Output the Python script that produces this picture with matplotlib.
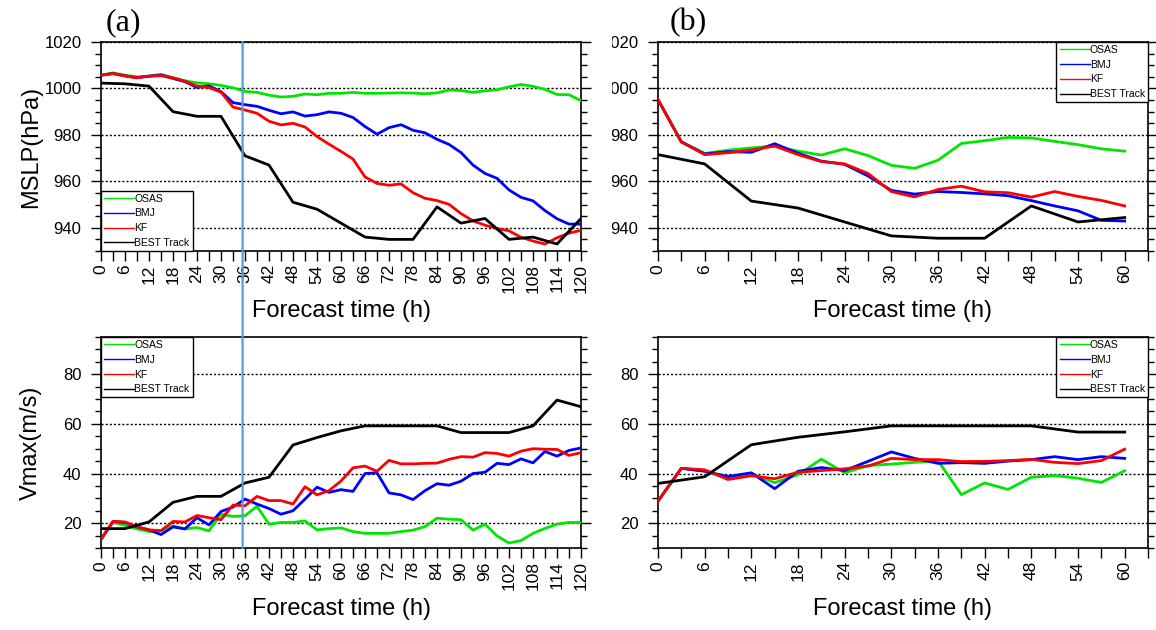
import numpy as np
import matplotlib
matplotlib.use('Agg')
import matplotlib.pyplot as plt
from matplotlib.patches import ConnectionPatch
from matplotlib.transforms import Bbox, TransformedBbox
from matplotlib.ticker import MultipleLocator

plt.rcParams['font.family'] = ['Liberation Sans', 'DejaVu Sans']

# forecast hours
hours_a = np.arange(0, 121, 3)
best_hours_a = np.arange(0, 121, 6)
hours_b = np.arange(0, 61, 3)
best_hours_b = np.arange(0, 61, 6)

# (a) MSLP (hPa)
mslp_osas_a = [1005.7, 1006.7, 1005.7, 1005.0, 1005.3, 1006.1, 1004.6, 1003.3, 1002.4, 1002.0,
               1001.3, 1000.3, 998.7, 998.3, 997.1, 996.3, 996.6, 997.6, 997.3, 997.9,
               997.9, 998.3, 997.9, 997.9, 998.0, 998.1, 998.0, 997.7, 998.1, 999.3,
               999.1, 998.3, 999.0, 999.4, 1000.7, 1001.7, 1000.9, 999.6, 997.4, 997.3, 994.7]
mslp_bmj_a = [1005.7, 1006.4, 1005.4, 1004.6, 1005.3, 1005.7, 1004.3, 1002.9, 1000.4, 1001.1,
              998.6, 993.9, 993.0, 992.3, 990.6, 989.1, 989.9, 988.1, 988.7, 989.9,
              989.3, 987.5, 983.6, 980.3, 983.1, 984.4, 982.0, 980.9, 978.1, 975.9,
              972.4, 967.0, 963.4, 961.3, 956.3, 953.1, 951.6, 947.4, 943.9, 941.6, 941.6]
mslp_kf_a = [1005.7, 1006.4, 1005.4, 1004.6, 1005.3, 1005.5, 1004.6, 1003.1, 1001.0, 1000.4,
             998.4, 992.0, 990.7, 989.3, 985.9, 984.3, 985.0, 983.4, 979.3, 976.0,
             972.9, 969.6, 961.9, 959.1, 958.3, 958.9, 955.1, 952.7, 951.7, 950.1,
             946.1, 943.0, 941.1, 939.7, 938.7, 935.9, 934.3, 933.0, 935.7, 937.7, 938.9]
mslp_best_a = [1002.3, 1002.0, 1001.0, 990.0, 988.0, 988.0, 971.0, 967.0, 951.0, 948.0, 942.0,
               936.0, 935.0, 935.0, 949.0, 942.0, 944.0, 935.0, 936.0, 933.0, 944.0]

# (b) MSLP (hPa)
mslp_osas_b = [995.2, 977.0, 972.0, 973.4, 974.4, 975.2, 973.0, 971.3, 974.0, 971.1, 966.9,
               965.6, 969.1, 976.3, 977.5, 978.9, 978.7, 977.2, 975.8, 974.0, 973.0]
mslp_bmj_b = [995.2, 977.0, 971.8, 972.8, 972.5, 976.2, 972.1, 968.7, 967.3, 962.3, 956.1,
              954.5, 955.6, 955.2, 954.6, 953.8, 951.7, 949.4, 947.3, 943.2, 942.9]
mslp_kf_b = [995.2, 977.0, 971.5, 972.3, 973.5, 975.2, 971.5, 968.5, 967.5, 963.4, 955.6,
             953.3, 956.5, 957.9, 955.5, 955.1, 953.2, 955.6, 953.5, 951.8, 949.4]
mslp_best_b = [971.5, 967.5, 951.5, 948.5, 942.5, 936.5, 935.5, 935.5, 949.4, 942.5, 944.4]

# (a) Vmax (m/s)
vmax_osas_a = [13.5, 20.4, 19.1, 17.7, 16.6, 16.9, 18.9, 17.7, 18.2, 16.9,
               23.6, 22.7, 23.0, 26.8, 19.6, 20.3, 20.3, 20.9, 17.3, 17.8,
               18.1, 16.6, 15.9, 15.9, 15.9, 16.6, 17.2, 18.6, 22.0, 21.6,
               21.4, 17.2, 19.6, 14.9, 12.0, 13.0, 15.9, 17.9, 19.6, 20.3, 20.3]
vmax_bmj_a = [13.5, 20.7, 20.3, 18.5, 17.3, 15.4, 18.5, 17.7, 22.2, 19.3,
              24.7, 26.5, 29.7, 27.7, 25.9, 23.6, 25.0, 29.7, 34.5, 32.4,
              33.5, 32.8, 40.0, 40.3, 32.2, 31.4, 29.5, 33.1, 35.9, 35.3,
              36.9, 40.0, 40.5, 44.1, 43.6, 45.9, 44.3, 48.9, 47.0, 49.3, 50.3]
vmax_kf_a = [13.5, 20.7, 20.5, 18.5, 17.3, 17.0, 20.7, 20.5, 23.1, 22.2,
             21.4, 27.3, 27.0, 30.8, 29.1, 29.1, 27.7, 34.7, 31.4, 33.1,
             37.0, 42.3, 43.0, 40.9, 45.3, 43.9, 43.9, 44.1, 44.2, 45.7,
             46.8, 46.6, 48.4, 48.1, 47.0, 49.0, 50.0, 49.8, 49.7, 47.3, 48.4]
vmax_best_a = [17.8, 17.8, 20.5, 28.4, 30.8, 30.8, 36.2, 38.5, 51.5, 54.5, 57.2,
               59.2, 59.2, 59.2, 59.2, 56.5, 56.5, 56.5, 59.2, 69.6, 66.9]

# (b) Vmax (m/s)
vmax_osas_b = [28.9, 42.1, 41.1, 38.1, 40.0, 36.3, 39.5, 45.8, 40.3, 43.2, 43.8,
               44.5, 45.2, 31.5, 36.2, 33.6, 38.5, 39.2, 38.1, 36.4, 41.1]
vmax_bmj_b = [28.9, 42.1, 40.9, 38.8, 40.3, 33.9, 40.9, 42.4, 41.2, 44.9, 48.7,
              46.1, 44.1, 44.4, 44.1, 45.0, 45.6, 46.8, 45.6, 46.8, 46.1]
vmax_kf_b = [28.9, 42.1, 41.5, 37.6, 39.1, 37.9, 40.5, 41.2, 41.9, 43.0, 46.1,
             45.6, 45.6, 44.8, 44.9, 45.2, 45.7, 44.5, 44.0, 45.2, 49.8]
vmax_best_b = [36.0, 38.7, 51.6, 54.6, 56.8, 59.2, 59.2, 59.2, 59.2, 56.7, 56.7]

labels = ['OSAS', 'BMJ', 'KF', 'BEST Track']
colors = ['#00e600', '#0000ff', '#ff0000', '#000000']
split_hour = 35.4  # vertical marker linking panel (a) to (b)

W, H = 1156, 630
fig = plt.figure(figsize=(W / 100, H / 100), dpi=100)

ax_tl = fig.add_axes([101 / W, 1 - 251 / H, 480 / W, 209 / H])
ax_tr = fig.add_axes([658 / W, 1 - 251 / H, 490 / W, 209 / H])
ax_bl = fig.add_axes([101 / W, 1 - 548 / H, 480 / W, 211 / H])
ax_br = fig.add_axes([658 / W, 1 - 548 / H, 490 / W, 211 / H])


def style_axes(ax, xmax, xlab_max, ylim, yticks):
    ax.set_xlim(0, xmax)
    ax.set_ylim(*ylim)
    xt = np.arange(0, xlab_max + 1, 6)
    ax.set_xticks(xt)
    ax.set_xticklabels([str(v) for v in xt], rotation=90)
    ax.xaxis.set_minor_locator(MultipleLocator(3))
    ax.set_yticks(yticks)
    ax.yaxis.set_minor_locator(MultipleLocator(5))
    ax.tick_params(axis='x', which='both', direction='out', length=7, width=1,
                   pad=2.5, labelsize=12.5)
    ax.tick_params(axis='y', which='major', direction='out', length=7, width=1,
                   pad=7, left=True, right=True, labelsize=12)
    ax.tick_params(axis='y', which='minor', direction='out', length=4.5, width=1,
                   left=True, right=True)
    for y in yticks:
        ax.axhline(y, color='k', ls=(0, (1.5, 1.5)), lw=1, zorder=1)
    for s in ax.spines.values():
        s.set_linewidth(1.2)
    ax.set_xlabel('Forecast time (h)', fontsize=17)
    ax.xaxis.set_label_coords(0.5, -0.235)


def draw_lines(ax, hours, best_hours, series, best, loc):
    for vals, lab, c in zip(series, labels[:3], colors[:3]):
        ax.plot(hours, vals, color=c, lw=2, label=lab, zorder=3)
    ax.plot(best_hours, best, color=colors[3], lw=2, label=labels[3], zorder=3)
    leg = ax.legend(loc=loc, borderaxespad=0, fancybox=False, edgecolor='k',
                    framealpha=1, fontsize=7.5, handlelength=2.9, handletextpad=0,
                    labelspacing=0.45, borderpad=0.3)
    leg.get_frame().set_linewidth(1.0)
    for ln in leg.get_lines():
        ln.set_linewidth(1.0)


draw_lines(ax_tl, hours_a, best_hours_a, [mslp_osas_a, mslp_bmj_a, mslp_kf_a], mslp_best_a, 'lower left')
draw_lines(ax_tr, hours_b, best_hours_b, [mslp_osas_b, mslp_bmj_b, mslp_kf_b], mslp_best_b, 'upper right')
draw_lines(ax_bl, hours_a, best_hours_a, [vmax_osas_a, vmax_bmj_a, vmax_kf_a], vmax_best_a, 'upper left')
draw_lines(ax_br, hours_b, best_hours_b, [vmax_osas_b, vmax_bmj_b, vmax_kf_b], vmax_best_b, 'upper right')

style_axes(ax_tl, 120, 120, (930, 1020), [940, 960, 980, 1000, 1020])
style_axes(ax_tr, 63, 60, (930, 1020), [940, 960, 980, 1000, 1020])
style_axes(ax_bl, 120, 120, (10, 95), [20, 40, 60, 80])
style_axes(ax_br, 63, 60, (10, 95), [20, 40, 60, 80])

ax_tl.set_ylabel('MSLP(hPa)', fontsize=17)
ax_tl.yaxis.set_label_coords(-0.123, 0.5)
ax_bl.set_ylabel('Vmax(m/s)', fontsize=17)
ax_bl.yaxis.set_label_coords(-0.123, 0.5)

# the right-hand MSLP labels are cut off by the left panel
clip = TransformedBbox(Bbox([[612 / W, 0], [1, 1]]), fig.transFigure)
for tk in ax_tr.yaxis.get_major_ticks():
    tk.label1.set_clip_box(clip)
    tk.label1.set_clip_on(True)

fig.text(106 / W, 1 - 30 / H, '(a)', family='Liberation Serif', fontsize=23, va='baseline')
fig.text(670 / W, 1 - 30 / H, '(b)', family='Liberation Serif', fontsize=23, va='baseline')

con = ConnectionPatch(xyA=(split_hour, 1020), coordsA=ax_tl.transData,
                      xyB=(split_hour, 10), coordsB=ax_bl.transData,
                      color='#5b9bd5', lw=1.6, zorder=10)
fig.add_artist(con)

fig.savefig('out.png', dpi=100)
